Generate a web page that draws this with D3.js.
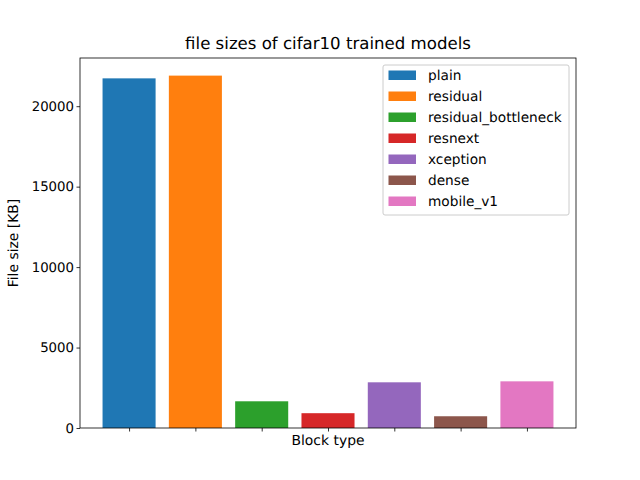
<!DOCTYPE html>
<html>
<head>
<meta charset="utf-8">
<script src="https://cdn.jsdelivr.net/npm/d3@7"></script>
<style>
  body { margin: 0; background: #fff; }
  text { font-family: "DejaVu Sans", sans-serif; text-rendering: geometricPrecision; }
</style>
</head>
<body>
<div id="chart"></div>
<script>
// datos
const blockTypes = ["plain", "residual", "residual_bottleneck", "resnext", "xception", "dense", "mobile_v1"];
const fileSizes = [21730, 21900, 1660, 920, 2840, 730, 2900];
const barColors = ["#1f77b4", "#ff7f0e", "#2ca02c", "#d62728", "#9467bd", "#8c564b", "#e377c2"];
const yTicks = [0, 5000, 10000, 15000, 20000];

const width = 640, height = 480;
const margin = { top: 58, right: 64, bottom: 52, left: 80 };
const innerW = width - margin.left - margin.right;
const innerH = height - margin.top - margin.bottom;

const svg = d3.select("#chart").append("svg")
    .attr("width", width)
    .attr("height", height);

const g = svg.append("g")
    .attr("transform", `translate(${margin.left},${margin.top})`);

// escala x como en matplotlib: posiciones 0..n-1, ancho 0.8, margen 5%
const n = blockTypes.length;
const span = (n - 1) + 0.8;
const x = d3.scaleLinear()
    .domain([-0.4 - span * 0.05, n - 1 + 0.4 + span * 0.05])
    .range([0, innerW]);

const y = d3.scaleLinear()
    .domain([0, d3.max(fileSizes) * 1.05])
    .range([innerH, 0]);

// barras
g.selectAll(".bar")
    .data(blockTypes)
    .enter()
    .append("rect")
    .attr("class", "bar")
    .attr("x", (d, i) => x(i - 0.4))
    .attr("width", (d, i) => x(i + 0.4) - x(i - 0.4))
    .attr("y", (d, i) => y(fileSizes[i]))
    .attr("height", (d, i) => innerH - y(fileSizes[i]))
    .attr("fill", (d, i) => barColors[i]);

// ejes
const xAxis = d3.axisBottom(x)
    .tickValues(d3.range(n))
    .tickFormat("")
    .tickSize(3.5)
    .tickSizeOuter(0);
const yAxis = d3.axisLeft(y)
    .tickValues(yTicks)
    .tickFormat(d3.format("d"))
    .tickSize(3.5)
    .tickSizeOuter(0);

g.append("g")
    .attr("transform", `translate(0,${innerH})`)
    .call(xAxis)
    .call(a => a.select(".domain").remove());

g.append("g")
    .call(yAxis)
    .call(a => a.select(".domain").remove())
    .call(a => a.selectAll("text")
        .attr("x", -6)
        .style("font-size", "13.3px")
        .style("font-family", "DejaVu Sans")
        .attr("fill", "#000"));

g.selectAll(".tick line").attr("stroke", "#000").attr("stroke-width", 0.8);

// marco
g.append("rect")
    .attr("width", innerW)
    .attr("height", innerH)
    .attr("fill", "none")
    .attr("stroke", "#000")
    .attr("stroke-width", 0.8);

// titulos
svg.append("text")
    .attr("x", margin.left + innerW / 2)
    .attr("y", margin.top - 9)
    .attr("text-anchor", "middle")
    .style("font-size", "16.6px")
    .text("file sizes of cifar10 trained models");

svg.append("text")
    .attr("x", margin.left + innerW / 2)
    .attr("y", margin.top + innerH + 17)
    .attr("text-anchor", "middle")
    .style("font-size", "13.9px")
    .text("Block type");

svg.append("text")
    .attr("transform", `translate(18,${margin.top + innerH / 2}) rotate(-90)`)
    .attr("text-anchor", "middle")
    .style("font-size", "13.9px")
    .text("File size [KB]");

// leyenda
const legend = svg.append("g").attr("transform", "translate(383,65)");
legend.append("rect")
    .attr("width", 186)
    .attr("height", 150)
    .attr("rx", 2)
    .attr("fill", "#fff")
    .attr("fill-opacity", 0.8)
    .attr("stroke", "#ccc")
    .attr("stroke-width", 1);

const items = legend.selectAll(".item")
    .data(blockTypes)
    .enter()
    .append("g")
    .attr("class", "item")
    .attr("transform", (d, i) => `translate(0,${10.5 + i * 21})`);

items.append("rect")
    .attr("x", 5.5)
    .attr("y", -5)
    .attr("width", 27.5)
    .attr("height", 9.5)
    .attr("fill", (d, i) => barColors[i]);

items.append("text")
    .attr("x", 45)
    .attr("y", 4.5)
    .style("font-size", "13.7px")
    .text(d => d);
</script>
</body>
</html>
